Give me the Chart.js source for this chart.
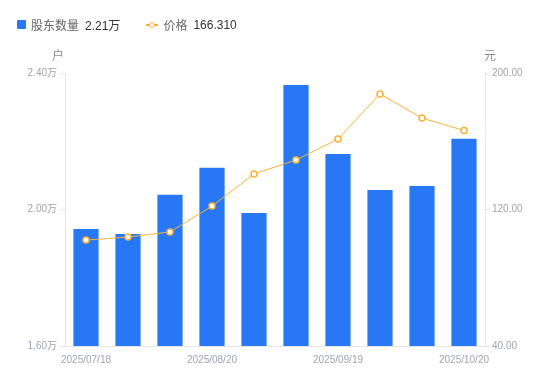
<!DOCTYPE html>
<html><head><meta charset="utf-8">
<script src="https://cdn.jsdelivr.net/npm/chart.js@4/dist/chart.umd.min.js"></script>
<style>
html,body{margin:0;padding:0;background:#fff;}
#wrap{position:relative;width:550px;height:381px;}
#legend{position:absolute;left:17px;top:16px;font:12px "Liberation Sans","Noto Sans CJK SC",sans-serif;display:flex;align-items:center;white-space:nowrap;}
.nm{color:#666;margin-left:5px;}
.vl{color:#333;margin-left:6px;}
.sq{display:inline-block;width:9px;height:9px;background:#2878f5;border-radius:1px;}
.ln{display:inline-block;position:relative;width:12px;height:9px;margin-left:26px;}
.ln:before{content:"";position:absolute;left:0;right:0;top:4px;height:1.5px;background:#f9b234;}
.ln:after{content:"";position:absolute;left:3px;top:1.5px;width:4px;height:4px;border:1.5px solid #f9b234;border-radius:50%;background:#fff;}
</style></head>
<body>
<div id="wrap">
<canvas id="c" width="550" height="381"></canvas>
<div id="legend"><span class="sq"></span><span class="nm">股东数量</span><span class="vl">2.21万</span><span class="ln"></span><span class="nm">价格</span><span class="vl">166.310</span></div>
</div>
<script>
const categories = ['2025/07/18','2025/07/31','2025/08/10','2025/08/20','2025/08/31','2025/09/10','2025/09/19','2025/09/30','2025/10/10','2025/10/20'];
const holders = [1.943, 1.928, 2.043, 2.122, 1.990, 2.365, 2.163, 2.057, 2.069, 2.207];
const prices = [102.1, 103.9, 106.8, 122.0, 140.8, 149.0, 161.3, 187.7, 173.6, 166.31];
const leftTicks = [1.6, 2.0, 2.4];
const rightTicks = [40, 120, 200];

const FONT = '"Liberation Sans","Noto Sans CJK SC",sans-serif';
const tickColor = '#a0a3b5';
const lineCol = '#e6e6e6';

const titlePlugin = {
  id:'axisTitles',
  afterDraw(chart){
    const ctx = chart.ctx; const a = chart.chartArea;
    ctx.save();
    ctx.font = '12px ' + FONT;
    ctx.fillStyle = '#8c8c8c';
    ctx.textBaseline = 'middle';
    ctx.textAlign = 'center';
    ctx.fillText('户', a.left - 7, 57);
    ctx.fillText('元', a.right + 5, 57);
    ctx.restore();
  }
};

new Chart(document.getElementById('c'), {
  data:{
    labels: categories,
    datasets:[
      {type:'line', label:'价格', data:prices, yAxisID:'y1', borderColor:'#f9b234', borderWidth:1,
       pointRadius:3, pointBorderWidth:1.5, pointBackgroundColor:'#fff', pointBorderColor:'#f9b234', tension:0, order:0},
      {type:'bar', label:'股东数量', data:holders, yAxisID:'y', backgroundColor:'#2878f5',
       categoryPercentage:0.6, barPercentage:1, order:1}
    ]
  },
  options:{
    responsive:false, animation:false,
    layout:{padding:{top:73,left:0,right:0,bottom:0}},
    plugins:{legend:{display:false}, tooltip:{enabled:false}},
    scales:{
      x:{
        offset:true,
        grid:{display:false, drawTicks:false},
        border:{display:true, color:lineCol},
        ticks:{color:tickColor, font:{size:10, family:FONT}, maxRotation:0, autoSkip:false, padding:8,
          callback:function(v,i){ return i%3===0 ? categories[i] : ''; }},
        afterFit(s){ s.height = 35; }
      },
      y:{
        position:'left', min:1.6, max:2.4,
        grid:{drawOnChartArea:false, drawTicks:true, tickLength:5, color:lineCol},
        border:{display:true, color:lineCol},
        afterBuildTicks(s){ s.ticks = leftTicks.map(v=>({value:v})); },
        ticks:{color:tickColor, font:{size:10, family:FONT}, padding:3,
          callback:v=>v.toFixed(2)+'万'},
        afterFit(s){ s.width = 65; }
      },
      y1:{
        position:'right', min:40, max:200,
        grid:{drawOnChartArea:false, drawTicks:true, tickLength:5, color:lineCol},
        border:{display:true, color:lineCol},
        afterBuildTicks(s){ s.ticks = rightTicks.map(v=>({value:v})); },
        ticks:{color:tickColor, font:{size:10, family:FONT}, padding:2,
          callback:v=>v.toFixed(2)},
        afterFit(s){ s.width = 65; }
      }
    }
  },
  plugins:[titlePlugin]
});
</script>
</body></html>
